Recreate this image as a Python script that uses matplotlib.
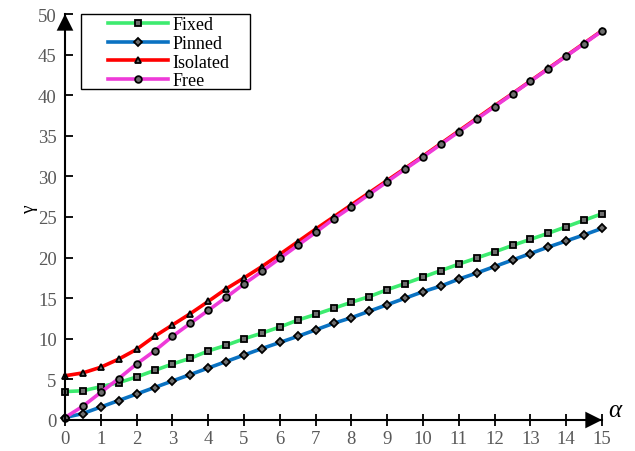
import numpy as np
import matplotlib.pyplot as plt
from matplotlib.patches import Rectangle

# -----------------------------
# Data: gamma vs alpha for four boundary conditions
# -----------------------------
alpha = np.arange(0, 15.01, 0.5)

gamma_fixed = [3.5, 3.6, 4.1, 4.6, 5.3, 6.1, 6.9, 7.6, 8.5, 9.2, 10.0,
               10.7, 11.45, 12.3, 13.0, 13.75, 14.5, 15.2, 16.05, 16.8, 17.6,
               18.4, 19.2, 19.95, 20.7, 21.5, 22.25, 23.0, 23.8, 24.6, 25.4]
gamma_pinned = [0.3, 0.8, 1.6, 2.4, 3.2, 4.0, 4.8, 5.6, 6.4, 7.2, 8.0,
                8.8, 9.55, 10.3, 11.1, 11.9, 12.6, 13.4, 14.2, 15.0, 15.8,
                16.5, 17.35, 18.1, 18.9, 19.7, 20.5, 21.3, 22.05, 22.8, 23.6]
gamma_isolated = [5.45, 5.8, 6.5, 7.5, 8.7, 10.3, 11.7, 13.1, 14.6, 16.15, 17.5,
                  18.9, 20.4, 21.95, 23.5, 25.0, 26.5, 28.0, 29.5, 31.0, 32.5,
                  34.05, 35.6, 37.15, 38.7, 40.2, 41.75, 43.3, 44.85, 46.4, 47.95]
gamma_free = [0.3, 1.7, 3.4, 5.1, 6.9, 8.5, 10.3, 11.9, 13.5, 15.1, 16.75,
              18.3, 19.9, 21.5, 23.1, 24.75, 26.25, 27.8, 29.35, 30.9, 32.4,
              33.95, 35.5, 37.05, 38.6, 40.15, 41.7, 43.25, 44.8, 46.35, 47.9]

series = [
    ("Fixed", gamma_fixed, "#3DEB6F", "s", 4.6),
    ("Pinned", gamma_pinned, "#0A72C2", "D", 3.6),
    ("Isolated", gamma_isolated, "#FF0000", "^", 5.0),
    ("Free", gamma_free, "#EE3AD8", "o", 4.8),
]

plt.rcParams["font.family"] = ["Liberation Serif", "DejaVu Serif"]

fig = plt.figure(figsize=(6.35, 4.52), dpi=100)
ax = fig.add_axes([65 / 635, 1 - 421 / 452, 537 / 635, 406 / 452])

for name, vals, col, mk, ms in series:
    ax.plot(alpha, vals, color=col, lw=2.6, marker=mk, ms=ms,
            mfc="#6e6e6e", mec="black", mew=1.3, label=name, clip_on=False)

ax.set_xlim(0, 15)
ax.set_ylim(0, 50)
ax.set_xticks(np.arange(0, 16, 1))
ax.set_yticks(np.arange(0, 51, 5))

for s in ["top", "right"]:
    ax.spines[s].set_visible(False)
for s in ["left", "bottom"]:
    ax.spines[s].set_linewidth(1.5)

ax.tick_params(axis="x", direction="inout", length=9, width=1.3,
               labelsize=13.5, labelcolor="#595959", pad=3)
ax.tick_params(axis="y", direction="in", length=6, width=1.3,
               labelsize=13.5, labelcolor="#595959", pad=6)

# axis arrows
arrow = dict(arrowstyle="-|>,head_length=0.6,head_width=0.3", color="black",
             lw=0, shrinkA=0, shrinkB=0, mutation_scale=20)
ax.annotate("", xy=(15, 0), xytext=(14, 0), arrowprops=arrow,
            annotation_clip=False)
ax.annotate("", xy=(0, 50), xytext=(0, 47), arrowprops=arrow,
            annotation_clip=False)

ax.text(-0.066, 0.52, "γ", transform=ax.transAxes, rotation=90,
        ha="center", va="center", fontsize=14)
ax.text(1.012, 0.025, "α", transform=ax.transAxes, ha="left", va="center",
        fontsize=18, style="italic")

# legend with a hand-drawn frame
ax.legend(loc="upper left", bbox_to_anchor=(0.080, 0.995), frameon=False,
          fontsize=13, handlelength=3.3, handletextpad=0.25, labelspacing=0.1,
          borderpad=0, borderaxespad=0, numpoints=1)
ax.add_patch(Rectangle((0.0298, 0.815), 0.3147, 0.185, transform=ax.transAxes,
                       fill=False, ec="black", lw=1.0, clip_on=False, zorder=5))

fig.savefig("out.png", dpi=100)
